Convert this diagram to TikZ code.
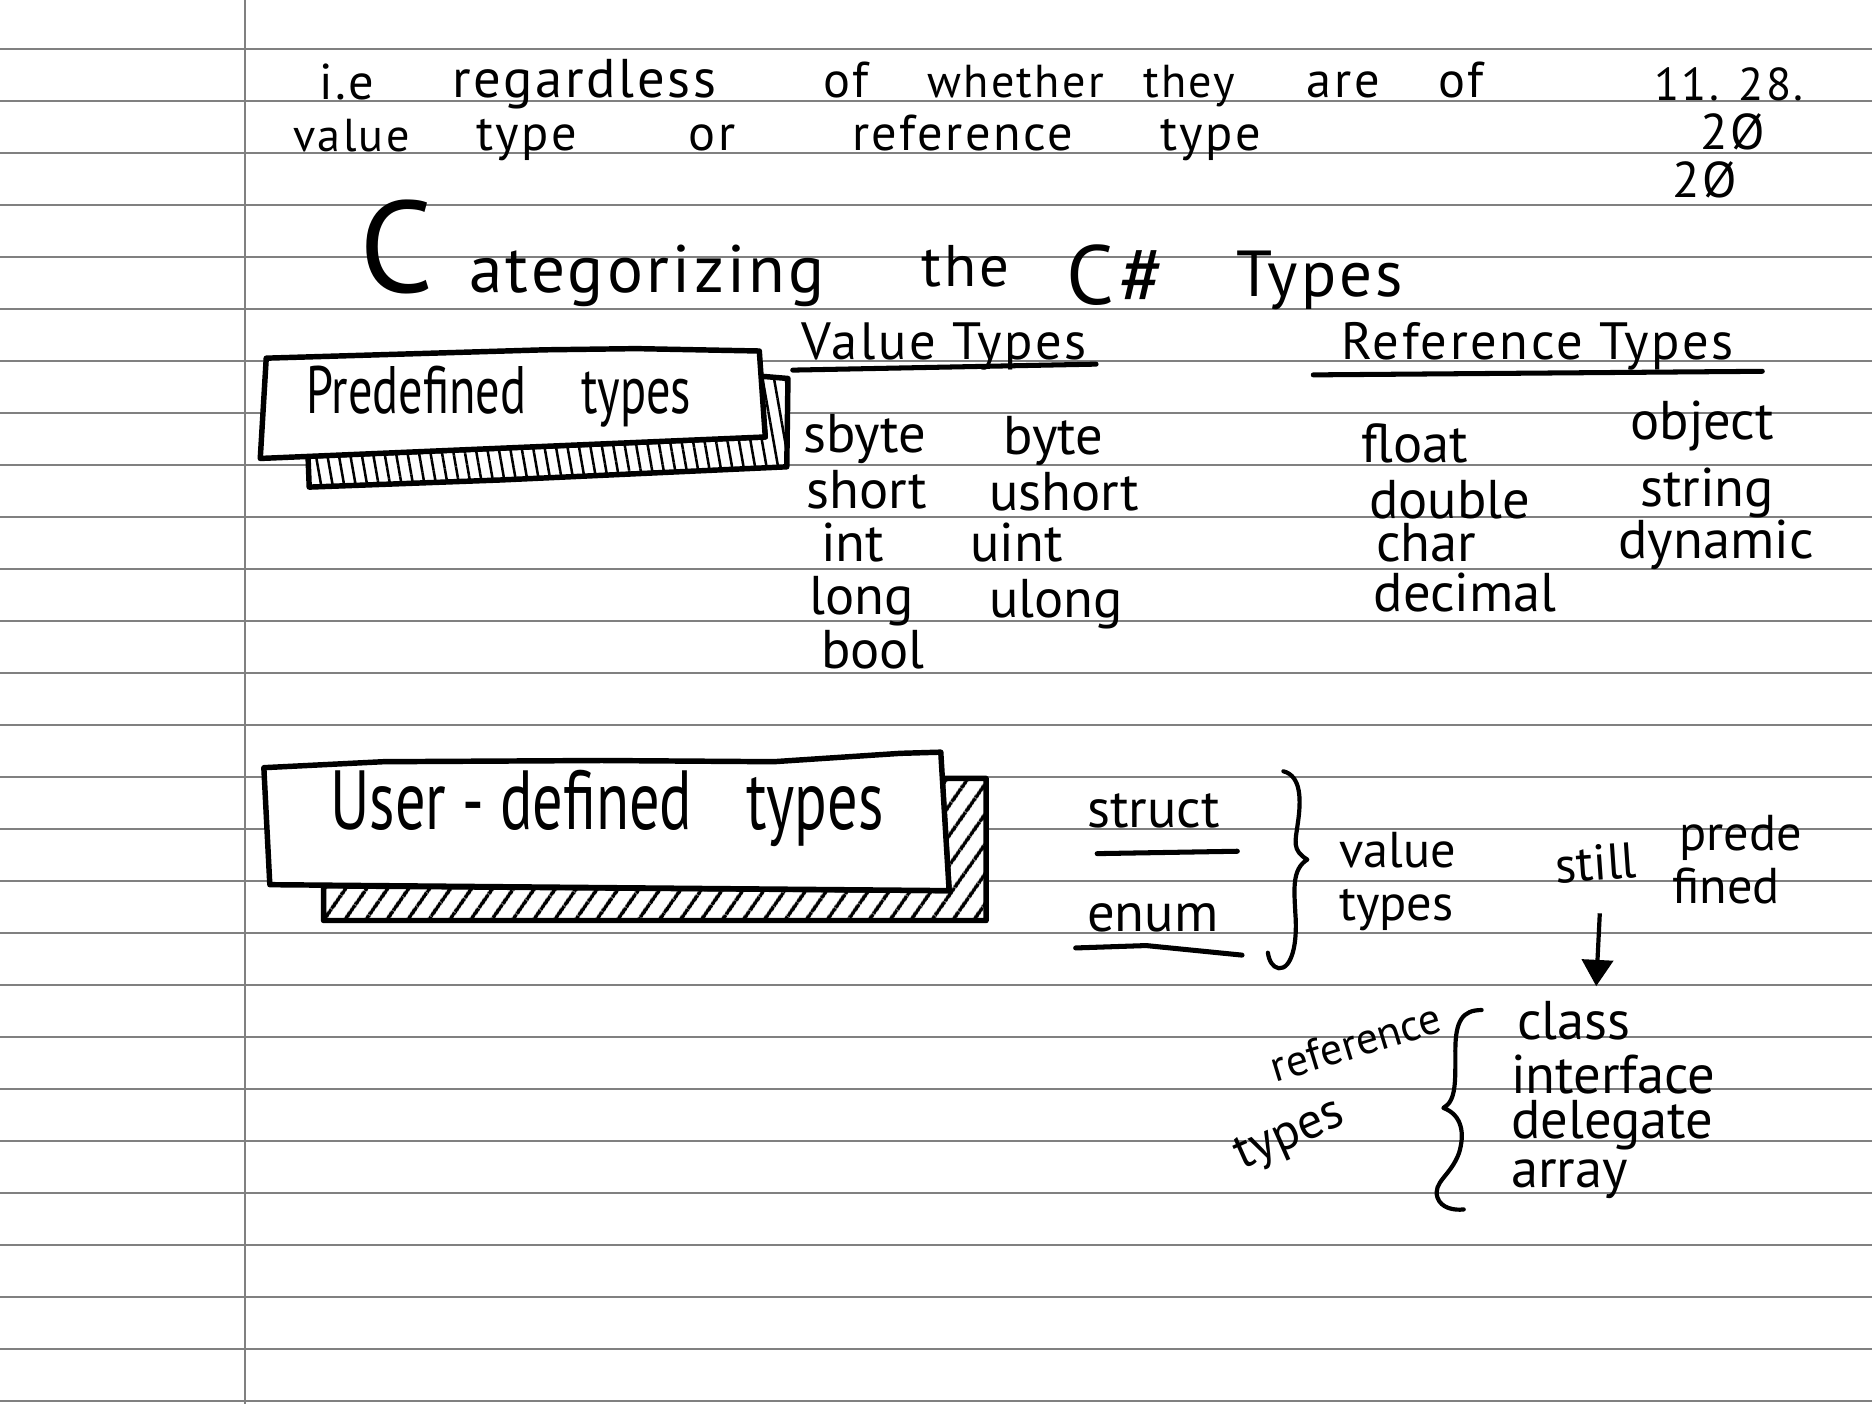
\documentclass[tikz,border=0pt]{standalone}
\usepackage{fontspec}
\setmainfont{PT Sans}
\newfontfamily\handwide[LetterSpace=5]{PT Sans}
\newfontfamily\handnarrow[FakeStretch=0.72]{PT Sans}
\usetikzlibrary{arrows.meta,patterns.meta,calc}
\definecolor{paperline}{RGB}{128,128,128}
\definecolor{ink}{RGB}{0,0,0}

\begin{document}
\begin{tikzpicture}[
  x=0.1mm, y=-0.1mm,
  txt/.style={inner sep=0pt, anchor=base west, text=ink},
  note/.style={txt, font=\handwide\fontsize{12}{14}\selectfont},
  head/.style={txt, font=\handwide\fontsize{12.5}{14}\selectfont},
  item/.style={txt, font=\fontsize{13}{15}\selectfont},
  small/.style={txt, font=\fontsize{12}{14}\selectfont},
  boxlabel/.style={txt, font=\handnarrow\fontsize{16}{18}\selectfont},
  titletxt/.style={txt, font=\handwide\fontsize{16}{20}\selectfont},
  paper/.style={draw=paperline, line width=0.45pt},
  box/.style={draw=ink, line width=1.3pt, line join=round, fill=white},
  hatchv/.style={box, preaction={fill=white}, pattern={Lines[angle=100,distance=2.7pt,line width=0.6pt]}},
  hatchd/.style={box, preaction={fill=white}, pattern={Lines[angle=55,distance=4pt,line width=0.9pt]}},
  uline/.style={draw=ink, line width=1.2pt, line cap=round},
  brace/.style={draw=ink, line width=1pt, line cap=round, line join=round},
  arr/.style={-{Triangle[width=2.6mm,length=2.2mm]}, line width=1pt, ink}
]
% ---- paper ----
\path[fill=white, use as bounding box] (0,0) rectangle (1568,1176);
\foreach \k in {0,...,26}
  \draw[paper] (0,{41.3+43.55*\k}) -- (1568,{41.3+43.55*\k});
\draw[paper] (205,0) -- (205,1176);

% ---- top notes ----
\node[note] (ie) at (267,83) {i.e};
\node[note, font=\handwide\fontsize{13}{15}\selectfont] (regardless) at (378,82) {regardless};
\node[note] (of1) at (689,82) {of};
\node[note, font=\handwide\fontsize{11}{13}\selectfont] (whether) at (776,82) {whether};
\node[note, font=\handwide\fontsize{11}{13}\selectfont] (they) at (957,82) {they};
\node[note] (are) at (1094,82) {are};
\node[note] (of2) at (1204,82) {of};
\node[note, font=\handwide\fontsize{11}{13}\selectfont] (date) at (1385,84) {11. 28.};
\node[note, font=\handwide\fontsize{11}{13}\selectfont] (value1) at (245,127) {value};
\node[note] (type1) at (398,126) {type};
\node[note] (or) at (576,126) {or};
\node[note] (reference1) at (713,126) {reference};
\node[note] (type2) at (971,126) {type};
\node[note] (mark1) at (1424,125) {2Ø};
\node[note] (mark2) at (1400,165) {2Ø};

% ---- title ----
\node[titletxt] (categ) at (300,245) {{\fontsize{31}{31}\selectfont C}\hspace{3mm}ategorizing};
\node[titletxt, font=\handwide\fontsize{14}{16}\selectfont] (the) at (771,240) {the};
\node[titletxt, font=\handwide\fontsize{20}{22}\selectfont] (csharp) at (893,255) {C\#};
\node[titletxt, font=\handwide\fontsize{15.5}{18}\selectfont] (types0) at (1035,248) {Types};

% ---- column heads ----
\node[head] (valhead) at (671,301) {Value Types};
\node[head] (refhead) at (1123,301) {Reference Types};
\draw[uline] ($(valhead.base west)+(-7,9)$) -- ($(valhead.base east)+(7,4)$);
\draw[uline] ($(refhead.base west)+(-23,13)$) -- ($(refhead.base east)+(23,10)$);

% ---- predefined box ----
\draw[hatchv] (636,315) -- (660,317) -- (659,391) -- (420,402) -- (259,408) -- (258,382) -- (641,366) -- cycle;
\draw[box] (223,300) -- (456,293) -- (533,292) -- (636,294) -- (641,366) -- (218,384) -- cycle;
\node[boxlabel] (predef) at (256,346) {Predefined\hspace{4.6mm}types};

% ---- value types list ----
\node[item] (sbyte) at (672,379) {sbyte};
\node[item] (byte) at (840,381) {byte};
\node[item] (short) at (675,426) {short};
\node[item] (ushort) at (828,428) {ushort};
\node[item] (int) at (687,470) {int};
\node[item] (uint) at (812,470) {uint};
\node[item] (long) at (677,515) {long};
\node[item] (ulong) at (828,517) {ulong};
\node[item] (bool) at (687,560) {bool};

% ---- reference types list ----
\node[item] (float) at (1140,387) {float};
\node[item] (object) at (1365,368) {object};
\node[item] (double) at (1146,434) {double};
\node[item] (string) at (1373,424) {string};
\node[item] (char) at (1152,470) {char};
\node[item] (dynamic) at (1355,468) {dynamic};
\node[item] (decimal) at (1150,512) {decimal};

% ---- user-defined box ----
\draw[hatchd] (789,652) -- (826,652) -- (826,771) -- (271,771) -- (271,742) -- (795,746) -- cycle;
\draw[box] (221,643) -- (321,638) -- (504,637) -- (648,638) -- (754,631) -- (788,630) -- (795,746) -- (226,741) -- cycle;
\node[boxlabel, font=\handnarrow\fontsize{20}{22}\selectfont] (userdef) at (276,695) {User - defined\hspace{4.5mm}types};

% ---- struct / enum ----
\node[item] (struct) at (910,693) {struct};
\node[item] (enum) at (910,780) {enum};
\draw[uline] ($(struct.base west)+(9,22)$) -- ($(struct.base east)+(14,20)$);
\draw[uline] ($(enum.base west)+(-9,14)$) -- ($(enum.base west)+(50,12)$) -- ($(enum.base east)+(19,20)$);
\draw[brace] (1075,646) .. controls (1090,650) and (1090,670) .. (1087,690)
  .. controls (1085,705) and (1082,712) .. (1095,720)
  .. controls (1082,728) and (1084,745) .. (1085,765)
  .. controls (1087,790) and (1082,812) .. (1071,811)
  .. controls (1066,810) and (1063,805) .. (1062,798);
\node[small] (value2) at (1121,727) {value};
\node[small] (types2) at (1121,771) {types};

% ---- still predefined ----
\node[small, rotate=4] (still) at (1303,740) {still};
\node[small] (prede) at (1406,712) {prede};
\node[small] (fined) at (1400,757) {fined};
\coordinate (arrtop) at (1340,765);
\coordinate (arrtip) at (1337,826);
\draw[arr] (arrtop) -- (arrtip);

% ---- reference types list (lower) ----
\node[item] (class) at (1270,871) {class};
\node[item] (interface) at (1265,916) {interface};
\node[item] (delegate) at (1265,954) {delegate};
\node[item] (array) at (1265,995) {array};
\draw[brace] (1241,846) .. controls (1225,846) and (1219,855) .. (1219,880)
  .. controls (1219,905) and (1220,922) .. (1209,928)
  .. controls (1225,934) and (1227,950) .. (1222,966)
  .. controls (1215,985) and (1200,990) .. (1204,1003)
  .. controls (1207,1012) and (1218,1014) .. (1226,1013);
\node[txt, font=\fontsize{10.5}{12}\selectfont, rotate=17] (reference2) at (1068,907) {reference};
\node[txt, font=\fontsize{12}{14}\selectfont, rotate=24] (types3) at (1040,980) {types};
\end{tikzpicture}
\end{document}
